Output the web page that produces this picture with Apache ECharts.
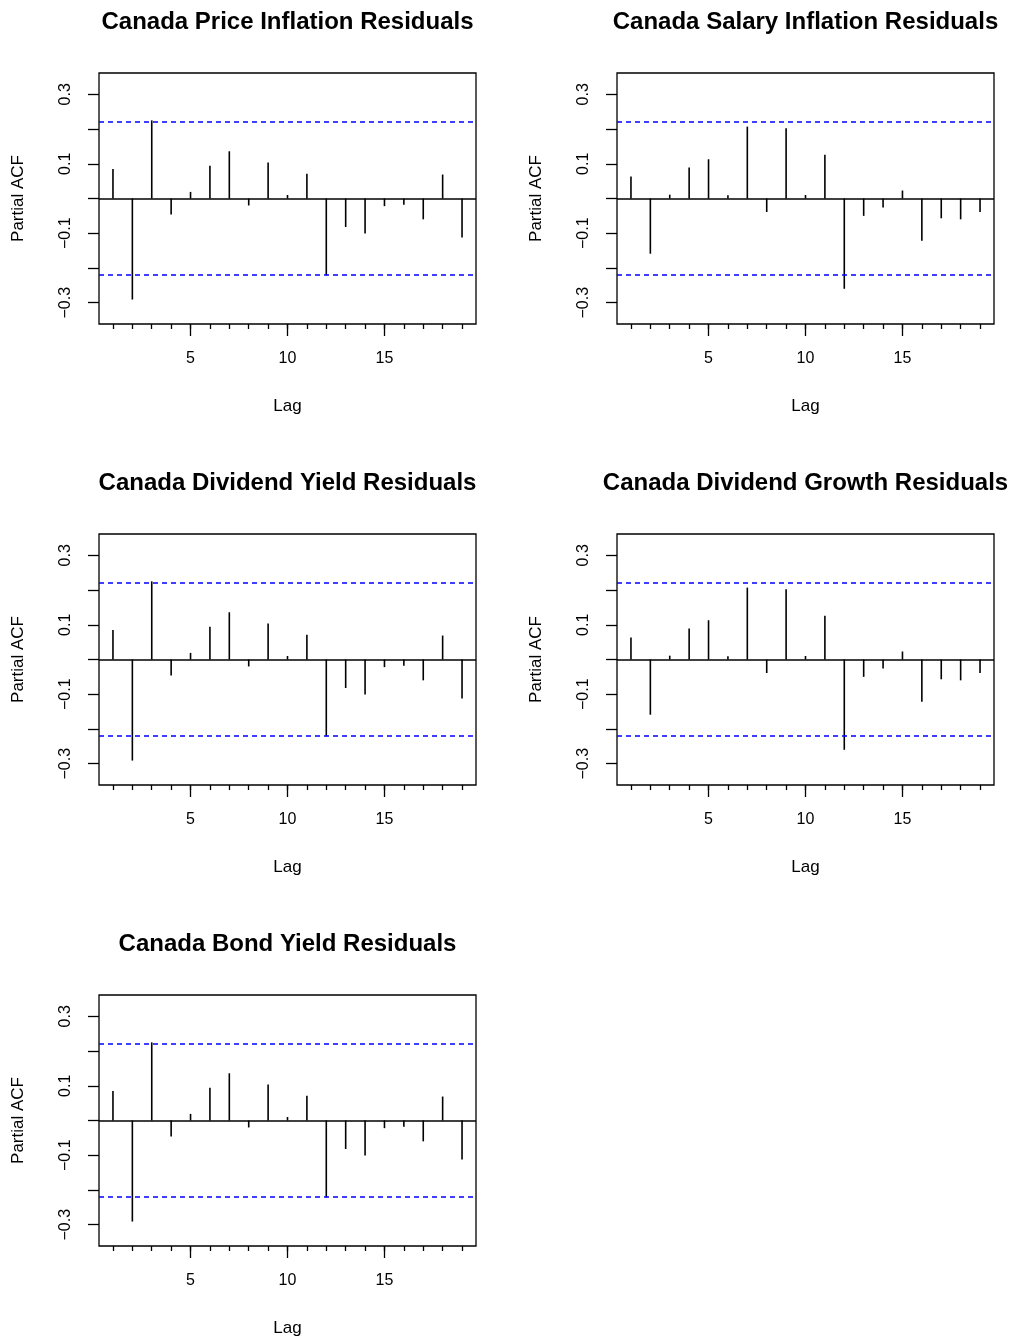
<!DOCTYPE html>
<html>
<head>
<meta charset="utf-8">
<script src="https://cdn.jsdelivr.net/npm/echarts@6/dist/echarts.min.js"></script>
<style>
html,body{margin:0;padding:0;background:#ffffff;}
#chart{width:1014px;height:1340px;}
</style>
</head>
<body>
<div id="chart"></div>
<script>
// ---- data ----
const lags = [1,2,3,4,5,6,7,8,9,10,11,12,13,14,15,16,17,18,19];
const priceInflationPacf = [0.085,-0.291,0.225,-0.046,0.019,0.094,0.136,-0.020,0.104,0.010,0.071,-0.221,-0.082,-0.101,-0.022,-0.018,-0.060,0.069,-0.112];
const salaryInflationPacf = [0.063,-0.159,0.011,0.089,0.113,0.009,0.207,-0.039,0.202,0.010,0.126,-0.260,-0.050,-0.026,0.023,-0.122,-0.057,-0.060,-0.039];
const dividendYieldPacf = [0.085,-0.291,0.225,-0.046,0.019,0.094,0.136,-0.020,0.104,0.010,0.071,-0.221,-0.082,-0.101,-0.022,-0.018,-0.060,0.069,-0.112];
const dividendGrowthPacf = [0.063,-0.159,0.011,0.089,0.113,0.009,0.207,-0.039,0.202,0.010,0.126,-0.260,-0.050,-0.026,0.023,-0.122,-0.057,-0.060,-0.039];
const bondYieldPacf = [0.085,-0.291,0.225,-0.046,0.019,0.094,0.136,-0.020,0.104,0.010,0.071,-0.221,-0.082,-0.101,-0.022,-0.018,-0.060,0.069,-0.112];
const panelTitles = ['Canada Price Inflation Residuals','Canada Salary Inflation Residuals','Canada Dividend Yield Residuals','Canada Dividend Growth Residuals','Canada Bond Yield Residuals'];
const confLimit = 0.219;
const yTickValues = [-0.3,-0.2,-0.1,0,0.1,0.2,0.3];
const yLabelValues = [-0.3,-0.1,0.1,0.3];
const xLabelValues = [5,10,15];
const xAxisName = 'Lag';
const yAxisName = 'Partial ACF';

// ---- layout ----
const panelData = [priceInflationPacf, salaryInflationPacf, dividendYieldPacf, dividendGrowthPacf, bondYieldPacf];
const colLeft = [99, 617];
const rowTop = [73, 534, 995];
const boxW = 377, boxH = 251;
const xMin = 0.28, xMax = 19.72;
const yMin = -0.3614, yMax = 0.3614;
const FONT = 'Liberation Sans, Arial, Helvetica, sans-serif';

const grids = [], xAxes = [], yAxes = [], series = [], titles = [];
panelData.forEach((vals, i) => {
  const col = i % 2, row = Math.floor(i / 2);
  const left = colLeft[col], top = rowTop[row];
  grids.push({left: left, top: top, width: boxW, height: boxH, show: true, borderColor: '#000', borderWidth: 1.3, backgroundColor: 'transparent'});
  titles.push({
    text: panelTitles[i], left: left + boxW / 2, textAlign: 'center', top: top - 63, padding: 0,
    textStyle: {fontFamily: FONT, fontSize: 24, fontWeight: 'bold', color: '#000'}
  });
  // minor ticks at every lag
  xAxes.push({
    type: 'value', gridIndex: i, min: xMin, max: xMax, position: 'bottom',
    axisLine: {show: false, onZero: false}, splitLine: {show: false},
    axisTick: {show: true, customValues: lags, length: 5, lineStyle: {color: '#000', width: 1.3}},
    axisLabel: {show: false}
  });
  // major ticks + labels
  xAxes.push({
    type: 'value', gridIndex: i, min: xMin, max: xMax, position: 'bottom',
    axisLine: {show: false, onZero: false}, splitLine: {show: false},
    axisTick: {show: true, customValues: xLabelValues, length: 12, lineStyle: {color: '#000', width: 1.3}},
    axisLabel: {show: true, customValues: xLabelValues, margin: 27, fontSize: 16, color: '#000', fontFamily: FONT},
    name: xAxisName, nameLocation: 'middle', nameGap: 74,
    nameTextStyle: {fontSize: 17, color: '#000', fontFamily: FONT}
  });
  yAxes.push({
    type: 'value', gridIndex: i, min: yMin, max: yMax,
    axisLine: {show: false, onZero: false}, splitLine: {show: false},
    axisTick: {show: true, customValues: yTickValues, length: 11, lineStyle: {color: '#000', width: 1.3}},
    axisLabel: {show: true, customValues: yLabelValues, rotate: 90, margin: 25, fontSize: 16, color: '#000', fontFamily: FONT,
      formatter: v => v.toFixed(1).replace('-', '\u2212')},
    name: yAxisName, nameLocation: 'middle', nameGap: 72, nameRotate: 90,
    nameTextStyle: {fontSize: 17, color: '#000', fontFamily: FONT}
  });
  series.push({
    type: 'custom', xAxisIndex: 2 * i, yAxisIndex: i,
    data: lags.map((l, k) => [l, vals[k]]),
    renderItem: (params, api) => {
      const p0 = api.coord([api.value(0), 0]);
      const p1 = api.coord([api.value(0), api.value(1)]);
      return {type: 'line', shape: {x1: p0[0], y1: p0[1], x2: p1[0], y2: p1[1]}, style: {stroke: '#000', lineWidth: 1.6}};
    },
    markLine: {
      silent: true, symbol: 'none', label: {show: false}, animation: false,
      data: [
        {yAxis: 0, lineStyle: {color: '#000', type: 'solid', width: 1.6}},
        {yAxis: confLimit, lineStyle: {color: '#0000ff', type: [5, 4], width: 1.6}},
        {yAxis: -confLimit, lineStyle: {color: '#0000ff', type: [5, 4], width: 1.6}}
      ]
    }
  });
});

const chart = echarts.init(document.getElementById('chart'), null, {renderer: 'canvas'});
chart.setOption({
  backgroundColor: '#ffffff',
  animation: false,
  title: titles,
  grid: grids,
  xAxis: xAxes,
  yAxis: yAxes,
  series: series
});
</script>
</body>
</html>
